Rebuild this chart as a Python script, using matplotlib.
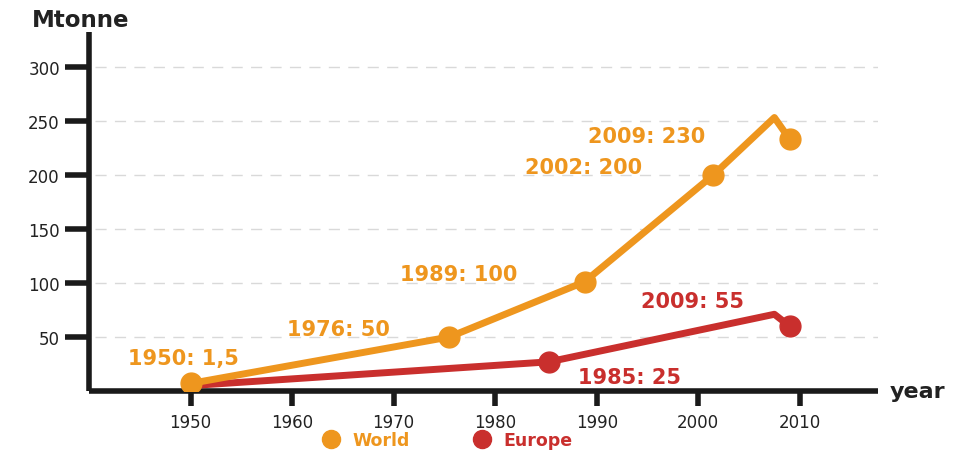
import matplotlib
matplotlib.use("Agg")
import matplotlib.pyplot as plt
from matplotlib.lines import Line2D

# Data
world_years = [1950, 1975.5, 1988.8, 2001.5, 2007.5, 2009]
world_vals = [7, 50, 101, 200, 253, 233]
world_marker_idx = [0, 1, 2, 3, 5]
europe_years = [1950, 1985.3, 2007.5, 2009]
europe_vals = [5, 27, 71, 60]
europe_marker_idx = [1, 3]

world_labels = ["1950: 1,5", "1976: 50", "1989: 100", "2002: 200", "2009: 230"]
europe_labels = ["2009: 55", "1985: 25"]

x_ticks = [1950, 1960, 1970, 1980, 1990, 2000, 2010]
y_ticks = [50, 100, 150, 200, 250, 300]

# label placement (data coords)
world_label_pos = [(1949.3, 31), (1964.6, 57), (1976.4, 108), (1988.7, 207), (1994.9, 236)]
europe_label_pos = [(1999.4, 83), (1993.2, 13)]

ORANGE = "#EE961E"
RED = "#C92F2D"
FONT = "DejaVu Sans"

fig = plt.figure(figsize=(9.59, 4.52), dpi=100)
ax = fig.add_axes([0.0928, 0.1327, 0.8227, 0.794])
ax.set_xlim(1940, 2017.7)
ax.set_ylim(0, 332)

for y in y_ticks:
    ax.axhline(y, color="#d9d9d9", lw=1, ls=(0, (8, 6)), zorder=1, xmin=0.008)

ax.plot(europe_years, europe_vals, color=RED, lw=5, solid_capstyle="round",
        solid_joinstyle="round", zorder=3)
ax.plot([europe_years[i] for i in europe_marker_idx], [europe_vals[i] for i in europe_marker_idx],
        ls="none", marker="o", ms=15, color=RED, zorder=4)
ax.plot(world_years, world_vals, color=ORANGE, lw=5, solid_capstyle="round",
        solid_joinstyle="round", zorder=5)
ax.plot([world_years[i] for i in world_marker_idx], [world_vals[i] for i in world_marker_idx],
        ls="none", marker="o", ms=15, color=ORANGE, zorder=6)

for txt, (x, y) in zip(world_labels, world_label_pos):
    ax.text(x, y, txt, color=ORANGE, fontsize=15, fontweight="bold", family=FONT,
            ha="center", va="center", zorder=7)
for txt, (x, y) in zip(europe_labels, europe_label_pos):
    ax.text(x, y, txt, color=RED, fontsize=15, fontweight="bold", family=FONT,
            ha="center", va="center", zorder=7)

for s in ["top", "right"]:
    ax.spines[s].set_visible(False)
for s in ["left", "bottom"]:
    ax.spines[s].set_linewidth(4)
    ax.spines[s].set_color("#1a1a1a")
    ax.spines[s].set_capstyle("butt")

ax.set_xticks(x_ticks)
ax.set_xticklabels([str(v) for v in x_ticks])
ax.set_yticks(y_ticks)
ax.set_yticklabels([str(v) for v in y_ticks])
ax.tick_params(axis="both", width=4, color="#1a1a1a", labelsize=12,
               labelcolor="#222222")
ax.tick_params(axis="x", length=11, pad=5)
ax.tick_params(axis="y", length=17, pad=4)
for lab in ax.get_xticklabels() + ax.get_yticklabels():
    lab.set_family(FONT)

fig.text(0.033, 0.955, "Mtonne", fontsize=16.5, fontweight="bold", family=FONT,
         color="#222222", ha="left", va="center")
fig.text(0.928, 0.133, "year", fontsize=16, fontweight="bold", family=FONT,
         color="#222222", ha="left", va="center")

handles = [Line2D([], [], ls="none", marker="o", ms=13, color=ORANGE),
           Line2D([], [], ls="none", marker="o", ms=13, color=RED)]
leg = fig.legend(handles, ["World", "Europe"], loc="center", bbox_to_anchor=(0.462, 0.025),
                 ncol=2, frameon=False, handletextpad=0.2, columnspacing=3.2,
                 prop={"family": FONT, "weight": "bold", "size": 12.5})
for t, c in zip(leg.get_texts(), [ORANGE, RED]):
    t.set_color(c)

fig.savefig("out.png", dpi=100)
